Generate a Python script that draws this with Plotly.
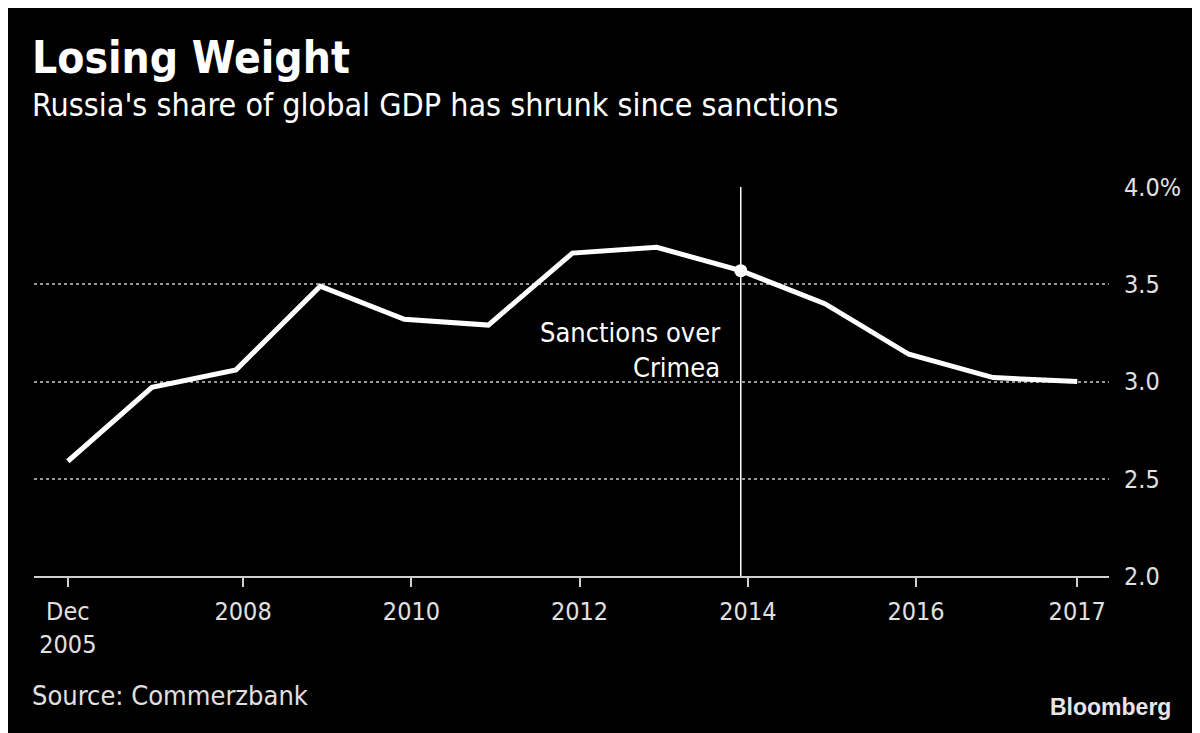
import plotly.graph_objects as go

# ---- data ----
dates = ["2005-12-01", "2006-12-01", "2007-12-01", "2008-12-01", "2009-12-01",
         "2010-12-01", "2011-12-01", "2012-12-01", "2013-12-01", "2014-12-01",
         "2015-12-01", "2016-12-01", "2017-12-01"]
share = [2.59, 2.97, 3.06, 3.49, 3.32, 3.29, 3.66, 3.69, 3.57, 3.40, 3.14, 3.02, 3.00]

x_tickvals = ["2005-12-01", "2008-01-01", "2010-01-01", "2012-01-01",
              "2014-01-01", "2016-01-01", "2017-12-01"]
x_ticktext = ["Dec<br>2005", "2008", "2010", "2012", "2014", "2016", "2017"]
y_tickvals = [2.0, 2.5, 3.0, 3.5, 4.0]
y_ticktext = ["2.0", "2.5", "3.0", "3.5", "4.0%"]

event_date = "2013-12-01"
event_value = 3.57
event_label = "Sanctions over<br>Crimea"

title = "Losing Weight"
subtitle = "Russia's share of global GDP has shrunk since sanctions"
source = "Source: Commerzbank"

# ---- layout geometry (page has an 8px body margin; compensate) ----
OFF = 8
W, H = 1200 - OFF, 733 - OFF
ML, MR, MT, MB = 34 - OFF, 91, 187 - OFF, 157
PW, PH = W - ML - MR, H - MT - MB


def pxx(xp):
    return (xp - OFF - ML) / PW


def pyy(yp):
    return (H - MB - (yp - OFF)) / PH


FONT = "DejaVu Sans Condensed, Liberation Sans Narrow, Liberation Sans, sans-serif"
TICKC = "#e0e0e0"

fig = go.Figure()
fig.add_trace(go.Scatter(
    x=dates, y=share, mode="lines",
    line=dict(color="white", width=5),
    hoverinfo="skip", showlegend=False,
))
fig.add_trace(go.Scatter(
    x=[event_date], y=[event_value], mode="markers",
    marker=dict(color="white", size=13),
    hoverinfo="skip", showlegend=False,
))

fig.add_shape(type="line", xref="x", yref="paper", x0=event_date, x1=event_date,
              y0=0, y1=1, line=dict(color="white", width=1.5), layer="below")

fig.add_annotation(x=event_date, y=3.16, xref="x", yref="y", text=event_label,
                   showarrow=False, xanchor="right", yanchor="middle", align="right",
                   xshift=-19, font=dict(family=FONT, size=27, color="white"))

fig.add_annotation(x=pxx(30), y=pyy(57), xref="paper", yref="paper", text="<b>" + title + "</b>",
                   showarrow=False, xanchor="left", yanchor="middle",
                   font=dict(family=FONT, size=44, color="white"))
fig.add_annotation(x=pxx(30), y=pyy(105), xref="paper", yref="paper", text=subtitle,
                   showarrow=False, xanchor="left", yanchor="middle",
                   font=dict(family=FONT, size=32, color="white"))
fig.add_annotation(x=pxx(30), y=pyy(695), xref="paper", yref="paper", text=source,
                   showarrow=False, xanchor="left", yanchor="middle",
                   font=dict(family=FONT, size=27, color=TICKC))
fig.add_annotation(x=pxx(1173), y=pyy(707), xref="paper", yref="paper", text="<b>Bloomberg</b>",
                   showarrow=False, xanchor="right", yanchor="middle",
                   font=dict(family="Liberation Sans, Arial, sans-serif", size=23, color="#e6e6e6"))

fig.update_layout(
    width=W, height=H,
    margin=dict(l=ML, r=MR, t=MT, b=MB),
    paper_bgcolor="black", plot_bgcolor="black",
    font=dict(family=FONT, size=25, color=TICKC),
    showlegend=False,
)
fig.update_xaxes(
    type="date", range=["2005-07-07", "2018-04-18"],
    tickvals=x_tickvals, ticktext=x_ticktext,
    showgrid=False, zeroline=False,
    showline=True, linecolor="#d0d0d0", linewidth=2,
    ticks="outside", ticklen=9, tickwidth=2, tickcolor="#d0d0d0",
    ticklabelstandoff=3,
    tickfont=dict(family=FONT, size=25, color=TICKC),
)
fig.update_yaxes(
    range=[2.0, 4.0], side="right",
    tickvals=y_tickvals, ticktext=y_ticktext,
    showgrid=True, gridcolor="#999999", gridwidth=2, griddash="dot",
    zeroline=False, showline=False, ticks="",
    ticklabelstandoff=14,
    tickfont=dict(family=FONT, size=25, color=TICKC),
)

fig.write_html("out.html")
